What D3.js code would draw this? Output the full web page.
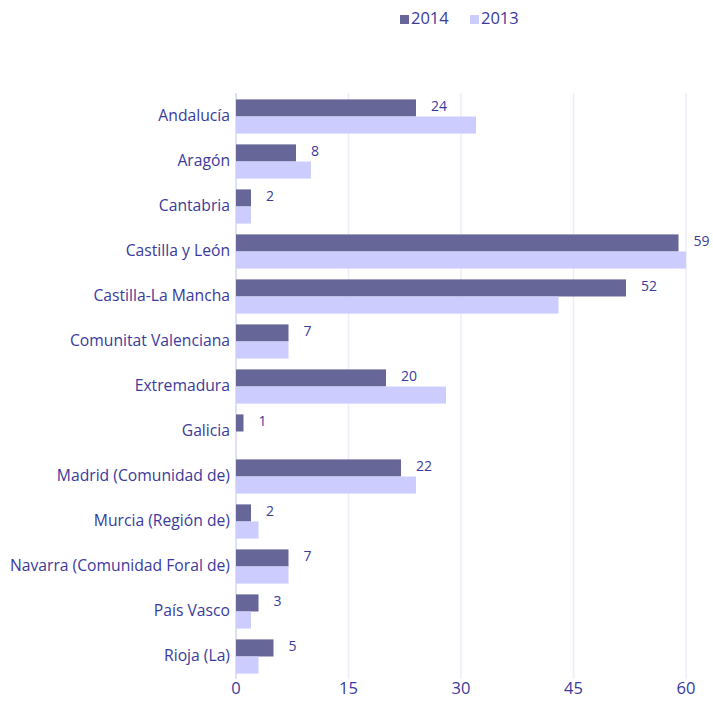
<!DOCTYPE html>
<html>
<head>
<meta charset="utf-8">
<script src="https://cdn.jsdelivr.net/npm/d3@7"></script>
<style>
  body { margin: 0; background: #fff; }
  text { font-family: "Open Sans", Lato, sans-serif; fill: #3a3a9c; }
</style>
</head>
<body>
<div id="chart"></div>
<script>
const regions = [
    "Andalucía", "Aragón", "Cantabria", "Castilla y León", "Castilla-La Mancha",
    "Comunitat Valenciana", "Extremadura", "Galicia", "Madrid (Comunidad de)",
    "Murcia (Región de)", "Navarra (Comunidad Foral de)", "País Vasco", "Rioja (La)"
];
const values2014 = [24, 8, 2, 59, 52, 7, 20, 1, 22, 2, 7, 3, 5];
const values2013 = [32, 10, 2, 60, 43, 7, 28, 0, 24, 3, 7, 2, 3];
const xTicks = [0, 15, 30, 45, 60];
const seriesNames = ["2014", "2013"];
const seriesColors = ["#666699", "#ccccff"];

const width = 713, height = 702;
const margin = { top: 94, right: 27, bottom: 23, left: 236 };

const svg = d3.select("#chart")
    .append("svg")
    .attr("width", width)
    .attr("height", height);

const x = d3.scaleLinear()
    .domain([0, 60])
    .range([margin.left, width - margin.right]);

const y = d3.scaleBand()
    .domain(regions)
    .range([margin.top, height - margin.bottom])
    .paddingInner(0.24)
    .paddingOuter(0.12);

const sub = d3.scaleBand()
    .domain(seriesNames)
    .range([0, y.bandwidth()]);

// grid
svg.append("g")
    .selectAll("line")
    .data(xTicks)
    .join("line")
    .attr("x1", d => x(d)).attr("x2", d => x(d))
    .attr("y1", margin.top - 1).attr("y2", height - margin.bottom)
    .attr("stroke", d => d === 0 ? "#d4d4f7" : "#ececfb")
    .attr("stroke-width", 1.5);

const rows = regions.map((r, i) => ({ region: r, v2014: values2014[i], v2013: values2013[i] }));

const g = svg.append("g");

g.selectAll(".bar2014")
    .data(rows)
    .join("rect")
    .attr("x", x(0))
    .attr("y", d => y(d.region) + sub("2014"))
    .attr("width", d => x(d.v2014) - x(0))
    .attr("height", sub.bandwidth())
    .attr("fill", seriesColors[0]);

g.selectAll(".bar2013")
    .data(rows)
    .join("rect")
    .attr("x", x(0))
    .attr("y", d => y(d.region) + sub("2013"))
    .attr("width", d => x(d.v2013) - x(0))
    .attr("height", sub.bandwidth())
    .attr("fill", seriesColors[1]);

// value labels for 2014
g.selectAll(".val")
    .data(rows)
    .join("text")
    .attr("x", d => x(d.v2014) + 15)
    .attr("y", d => y(d.region) + sub("2014") + sub.bandwidth() / 2 - 1)
    .attr("font-size", "14px")
    .attr("dominant-baseline", "middle")
    .text(d => d.v2014);

// category labels
svg.append("g")
    .selectAll("text")
    .data(regions)
    .join("text")
    .attr("x", margin.left - 6)
    .attr("y", d => y(d) + y.bandwidth() / 2)
    .attr("text-anchor", "end")
    .attr("dominant-baseline", "middle")
    .attr("font-size", "15.7px")
    .text(d => d);

// x tick labels
svg.append("g")
    .selectAll("text")
    .data(xTicks)
    .join("text")
    .attr("x", d => x(d))
    .attr("y", 694)
    .attr("text-anchor", "middle")
    .attr("font-size", "16.5px")
    .text(d => d);

// legend
const legend = svg.append("g")
    .selectAll("g")
    .data(seriesNames)
    .join("g")
    .attr("transform", (d, i) => `translate(${400 + i * 70}, 20)`);

legend.append("rect")
    .attr("x", 0).attr("y", -5)
    .attr("width", 9).attr("height", 9)
    .attr("fill", (d, i) => seriesColors[i]);

legend.append("text")
    .attr("x", 11)
    .attr("y", 0)
    .attr("dominant-baseline", "middle")
    .attr("font-size", "16.5px")
    .text(d => d);
</script>
</body>
</html>
